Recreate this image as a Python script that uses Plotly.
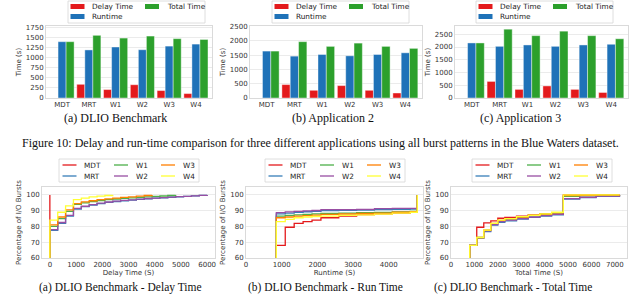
import plotly.graph_objects as go

W, H = 640, 295

# ---------------- data ----------------
categories = ["MDT", "MRT", "W1", "W2", "W3", "W4"]
bar_names = ["Delay Time", "Runtime", "Total Time"]

a_delay = [0, 340, 210, 330, 185, 110]
a_runtime = [1400, 1195, 1268, 1200, 1290, 1340]
a_total = [1400, 1558, 1490, 1540, 1475, 1455]

b_delay = [0, 470, 270, 435, 270, 175]
b_runtime = [1645, 1468, 1526, 1480, 1526, 1585]
b_total = [1645, 1975, 1810, 1925, 1810, 1740]

c_delay = [0, 650, 338, 473, 338, 216]
c_runtime = [2160, 2027, 2081, 2027, 2081, 2108]
c_total = [2160, 2700, 2446, 2622, 2446, 2324]

cdf_names = ["MDT", "MRT", "W1", "W2", "W3", "W4"]

# Delay time CDF (step points)
delay_x = [0, 0, 300, 600, 900, 1200, 1500, 1800, 2100, 2400, 2700, 3000,
           3300, 3600, 3900, 4200, 4500, 4800, 5100, 5400, 5700, 6000]
delay_MDT = [0, 100, None, None, None, None, None, None, None, None, None, None,
             None, None, None, None, None, None, None, None, None, None]
delay_MRT = [0, 77.5, 82, 86.5, 91, 92.5, 93.5, 94.5, 95.2, 95.8, 96.3, 96.7,
             97.1, 97.5, 97.9, 98.2, 98.5, 98.8, 99.1, 99.4, 99.7, 100]
delay_W1 = [0, 80, 85, 89.5, 94, 95, 95.7, 96.4, 97, 97.4, 97.8, 98.1,
            98.4, 98.7, 99.0, 99.3, 99.6, 100, None, None, None, None]
delay_W2 = [0, 78, 82.5, 87, 91.5, 92.8, 93.8, 94.8, 95.5, 96.0, 96.5, 96.9,
            97.3, 97.7, 98.0, 98.3, 98.6, 98.9, 99.1, 99.4, 99.7, 100]
delay_W3 = [0, 81, 86, 90.5, 94.5, 95.6, 96.3, 97, 97.5, 98, 98.4, 98.8,
            99.2, 99.6, 100, None, None, None, None, None, None, None]
delay_W4 = [0, 84, 89, 93, 97, 98, 98.7, 99.2, 99.6, 100, None, None,
            None, None, None, None, None, None, None, None, None, None]

# Run time CDF
run_x = [850, 850, 1100, 1350, 1600, 1850, 2100, 2600, 3100, 3600, 4100, 4600, 4800]
run_MDT = [0, 68, 79.5, 82, 83, 84, 85.5, 86.5, 87.5, 88, 88.5, 89, 100]
run_MRT = [0, 88, 88.5, 89, 89.3, 89.6, 90, 90.2, 90.3, 90.6, 90.8, 91, 100]
run_W1 = [0, 86.5, 87, 87.3, 87.6, 88, 88.3, 88.5, 88.7, 88.9, 89.2, 89.5, 100]
run_W2 = [0, 88.7, 89.2, 89.6, 89.9, 90.1, 90.6, 90.7, 90.8, 91.3, 91.4, 91.5, 100]
run_W3 = [0, 85.5, 86, 86.5, 86.8, 87.2, 87.6, 87.9, 88.2, 88.5, 89, 89.4, 100]
run_W4 = [0, 83, 84.5, 85.5, 86, 86.3, 86.6, 87, 87.3, 87.8, 88.5, 89, 100]

# Total time CDF
total_x = [800, 800, 1100, 1400, 1700, 2000, 2300, 2800, 3300, 3800, 4300, 4800, 5500, 6200, 7200]
total_MDT = [0, 68, 79.5, 82.3, 83.5, 85.2, 85.8, 86.6, 87.3, 88, 88.6, 100, 100, 100, 100]
total_MRT = [0, 68, 72.5, 76.8, 80.8, 82.6, 83.5, 84.7, 85.7, 86.6, 87.4, 97.3, 98.3, 99.1, 100]
total_W1 = [0, 68, 73, 77.5, 81.8, 83.7, 84.7, 85.8, 86.8, 87.6, 88.6, 99, 99.4, 99.7, 100]
total_W2 = [0, 68, 72.8, 77.2, 81.2, 83, 84, 85, 86, 86.9, 87.7, 97.6, 98.5, 99.2, 100]
total_W3 = [0, 68, 73, 77.6, 81.9, 83.9, 84.9, 86, 87, 87.8, 88.8, 99.5, 99.7, 99.9, 100]
total_W4 = [0, 68, 73, 77.7, 82, 84, 85, 86.2, 87.1, 88, 89, 100, 100, 100, 100]

top_captions = ["(a) DLIO Benchmark", "(b) Application 2", "(c) Application 3"]
bot_captions = ["(a) DLIO Benchmark - Delay Time", "(b) DLIO Benchmark - Run Time",
                "(c) DLIO Benchmark - Total Time"]
bot_xtitles = ["Delay Time (S)", "Runtime (S)", "Total Time (S)"]
fig_caption = ("Figure 10: Delay and run-time comparison for three different applications "
               "using all burst patterns in the Blue Waters dataset.")

# ---------------- styling / layout ----------------
bar_colors = ["#e31a1c", "#1f72b8", "#2ca02c"]
cdf_colors = ["#e41a1c", "#377eb8", "#4daf4a", "#984ea3", "#ff7f00", "#ffff33"]

FONT = "DejaVu Sans"
SERIF = "Liberation Serif"
TICK = dict(family=FONT, size=7, color="#333333")
TITLE = dict(family=FONT, size=7, color="#333333")
GRID = "#ebebeb"
FRAME = "#dadada"


def px(x):
    return x / W


def py(y):
    return 1 - y / H


fig = go.Figure()

top_sets = [(a_delay, a_runtime, a_total), (b_delay, b_runtime, b_total),
            (c_delay, c_runtime, c_total)]
top_x_dom = [(46, 212), (250, 422), (455, 628)]
top_y_px = (26, 98)
top_yrange = [1790, 2525, 2825]
top_dtick = [250, 500, 500]
top_cap_x = [115, 333, 520]
top_leg_left = [68, 272, 476]

bot_x = [delay_x, run_x, total_x]
bot_sets = [
    (delay_MDT, delay_MRT, delay_W1, delay_W2, delay_W3, delay_W4),
    (run_MDT, run_MRT, run_W1, run_W2, run_W3, run_W4),
    (total_MDT, total_MRT, total_W1, total_W2, total_W3, total_W4),
]
bot_x_dom = [(42, 215), (246, 423), (451, 627)]
bot_y_px = (187, 258)
bot_xrange = [(-300, 6300), (0, 4960), (0, 7520)]
bot_cap_x = [120, 325, 513]
bot_leg_left = [59, 265, 472]

layout_axes = {}
annotations = []
shapes = []

# top row: grouped bars
for i in range(3):
    n = i + 1
    xa = "x" if n == 1 else f"x{n}"
    ya = "y" if n == 1 else f"y{n}"
    for name, vals, col in zip(bar_names, top_sets[i], bar_colors):
        fig.add_trace(go.Bar(x=categories, y=vals, name=name, xaxis=xa, yaxis=ya,
                             marker=dict(color=col, line=dict(color="rgba(255,255,255,0.7)", width=0.6)),
                             showlegend=False))
    key = "" if n == 1 else str(n)
    layout_axes["xaxis" + key] = dict(
        domain=[px(top_x_dom[i][0]), px(top_x_dom[i][1])], anchor=ya,
        range=[-0.6, 5.6], showgrid=False, showline=True, mirror=True,
        linecolor=FRAME, linewidth=1, ticks="", tickfont=TICK, automargin=False,
        zeroline=False)
    layout_axes["yaxis" + key] = dict(
        domain=[py(top_y_px[1]), py(top_y_px[0])], anchor=xa,
        range=[0, top_yrange[i]], dtick=top_dtick[i], tick0=0,
        showgrid=True, gridcolor=GRID, gridwidth=1, showline=True, mirror=True,
        linecolor=FRAME, linewidth=1, ticks="", tickfont=TICK, automargin=False,
        zeroline=False,
        title=dict(text="Time (s)", font=TITLE, standoff=3))
    annotations.append(dict(text=top_captions[i], x=px(top_cap_x[i]), y=py(118),
                            xref="paper", yref="paper", showarrow=False,
                            xanchor="center", yanchor="middle",
                            font=dict(family=SERIF, size=12, color="#111111")))

    # legend (matplotlib style, 2 columns)
    L = top_leg_left[i]
    shapes.append(dict(type="rect", xref="paper", yref="paper",
                       x0=px(L), x1=px(L + 137), y0=py(23), y1=py(1),
                       fillcolor="rgba(255,255,255,0.9)", line=dict(color="#d6d6d6", width=0.8)))
    slots = [(0, 0), (0, 1), (1, 0)]
    col_off = [2.5, 77]
    row_y = [6.5, 16.5]
    for (c, r), name, col in zip(slots, bar_names, bar_colors):
        sx = L + col_off[c]
        yy = row_y[r]
        shapes.append(dict(type="rect", xref="paper", yref="paper",
                           x0=px(sx), x1=px(sx + 14), y0=py(yy + 2.5), y1=py(yy - 2.5),
                           fillcolor=col, line=dict(width=0)))
        annotations.append(dict(text=name, x=px(sx + 19.5), y=py(yy), xref="paper", yref="paper",
                                showarrow=False, xanchor="left", yanchor="middle",
                                font=dict(family=FONT, size=7.3, color="#222222")))

# bottom row: step CDFs
for i in range(3):
    n = i + 4
    xa = f"x{n}"
    ya = f"y{n}"
    for name, vals, col in zip(cdf_names, bot_sets[i], cdf_colors):
        fig.add_trace(go.Scatter(x=bot_x[i], y=vals, name=name, mode="lines",
                                 line=dict(color=col, width=1.3, shape="hv"),
                                 connectgaps=False, xaxis=xa, yaxis=ya, showlegend=False))
    key = str(n)
    layout_axes["xaxis" + key] = dict(
        domain=[px(bot_x_dom[i][0]), px(bot_x_dom[i][1])], anchor=ya,
        range=list(bot_xrange[i]), dtick=1000, tick0=0, showgrid=False,
        showline=True, mirror=True, linecolor=FRAME, linewidth=1, ticks="",
        tickfont=TICK, automargin=False, zeroline=False,
        title=dict(text=bot_xtitles[i], font=TITLE, standoff=0))
    layout_axes["yaxis" + key] = dict(
        domain=[py(bot_y_px[1]), py(bot_y_px[0])], anchor=xa,
        range=[60, 105], dtick=10, tick0=0, showgrid=True, gridcolor=GRID, gridwidth=1,
        showline=True, mirror=True, linecolor=FRAME, linewidth=1, ticks="",
        tickfont=TICK, automargin=False, zeroline=False,
        title=dict(text="Percentage of I/O Bursts", font=TITLE, standoff=3))
    annotations.append(dict(text=bot_captions[i], x=px(bot_cap_x[i]), y=py(287),
                            xref="paper", yref="paper", showarrow=False,
                            xanchor="center", yanchor="middle",
                            font=dict(family=SERIF, size=11.5, color="#111111")))

    L = bot_leg_left[i]
    shapes.append(dict(type="rect", xref="paper", yref="paper",
                       x0=px(L), x1=px(L + 140), y0=py(182), y1=py(159),
                       fillcolor="rgba(255,255,255,0.9)", line=dict(color="#d6d6d6", width=0.8)))
    slots = [(0, 0), (0, 1), (1, 0), (1, 1), (2, 0), (2, 1)]
    col_off = [3.5, 55, 102]
    row_y = [165, 176]
    for (c, r), name, col in zip(slots, cdf_names, cdf_colors):
        sx = L + col_off[c]
        yy = row_y[r]
        shapes.append(dict(type="line", xref="paper", yref="paper",
                           x0=px(sx), x1=px(sx + 14), y0=py(yy), y1=py(yy),
                           line=dict(color=col, width=1.3)))
        annotations.append(dict(text=name, x=px(sx + 19.5), y=py(yy), xref="paper", yref="paper",
                                showarrow=False, xanchor="left", yanchor="middle",
                                font=dict(family=FONT, size=7.3, color="#222222")))

annotations.append(dict(text=fig_caption, x=px(320), y=py(143), xref="paper", yref="paper",
                        showarrow=False, xanchor="center", yanchor="middle",
                        font=dict(family=SERIF, size=12, color="#111111")))

fig.update_layout(
    template="none",
    width=W, height=H,
    margin=dict(l=0, r=0, t=0, b=0),
    paper_bgcolor="white", plot_bgcolor="white",
    barmode="group", bargap=0.1, bargroupgap=0.0,
    showlegend=False,
    hovermode=False,
    font=dict(family=FONT, size=7, color="#333333"),
    annotations=annotations,
    shapes=shapes,
    **layout_axes,
)

fig.write_html("out.html",
               config={"displayModeBar": False, "staticPlot": True},
               post_script="document.body.style.margin='0';document.body.style.overflow='hidden';")
